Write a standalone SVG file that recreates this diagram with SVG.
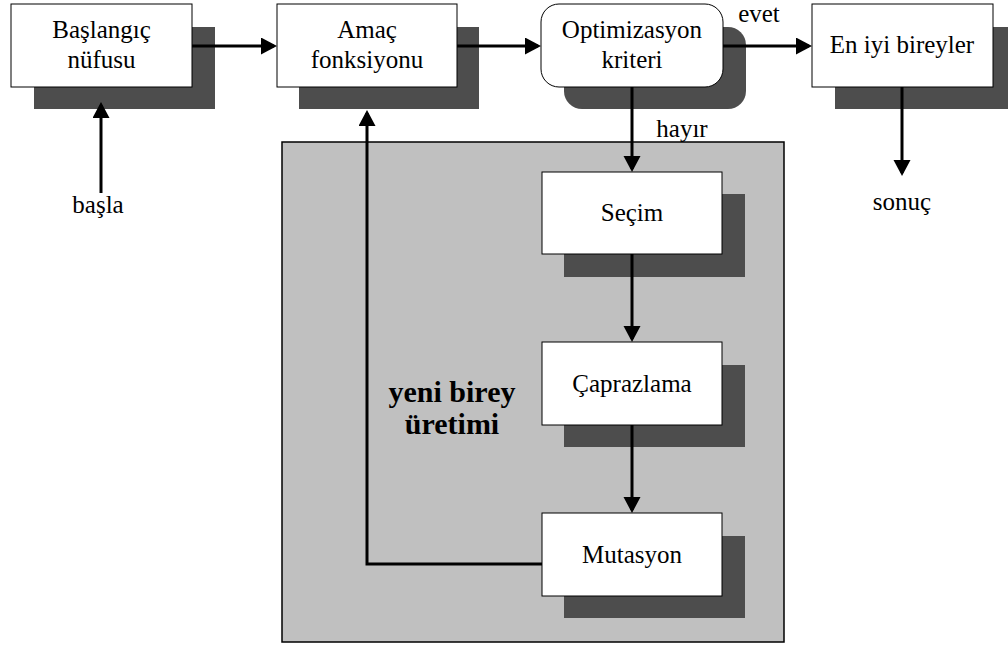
<svg xmlns="http://www.w3.org/2000/svg" width="1008" height="647" viewBox="0 0 1008 647">
<style>
.box{fill:#fff;stroke:#000;stroke-width:1}
.sh{fill:#4d4d4d}
text{font-family:'Liberation Serif','Times New Roman',Times,'DejaVu Serif',serif;fill:#000;text-anchor:middle}
.t{font-size:25px}
.b{font-size:30px;font-weight:bold}
.c{fill:none;stroke:#000;stroke-width:3}
</style>
<defs>
<marker id="ah" markerUnits="userSpaceOnUse" markerWidth="18" markerHeight="18" refX="13" refY="8.5" orient="auto" viewBox="0 0 18 18">
<path d="M0,0 L16,8.5 L0,17 z" fill="#000"/>
</marker>
</defs>
<rect width="1008" height="647" fill="#fff"/>
<g id="group-bg">
<rect x="282" y="142" width="502" height="500" fill="#c0c0c0" stroke="#000" stroke-width="1.5"/>
<text class="b" x="452" y="402">yeni birey</text>
<text class="b" x="452" y="434">üretimi</text>
</g>
<g id="n-baslangic">
<rect class="sh" x="34" y="27" width="181" height="82"/>
<rect class="box" x="11" y="4" width="181" height="83"/>
<text class="t" x="101.5" y="38">Başlangıç</text>
<text class="t" x="101.5" y="68">nüfusu</text>
</g>
<g id="n-amac">
<rect class="sh" x="299" y="27" width="180" height="82"/>
<rect class="box" x="277" y="4" width="180" height="83"/>
<text class="t" x="367" y="38">Amaç</text>
<text class="t" x="367" y="68">fonksiyonu</text>
</g>
<g id="n-opt">
<rect class="sh" x="564" y="27" width="182" height="82" rx="18"/>
<rect class="box" x="541" y="4" width="182" height="83" rx="18"/>
<text class="t" x="632" y="38">Optimizasyon</text>
<text class="t" x="632" y="68">kriteri</text>
</g>
<g id="n-eniyi">
<rect class="sh" x="835" y="27" width="181" height="82"/>
<rect class="box" x="812" y="4" width="181" height="83"/>
<text class="t" x="902" y="53">En iyi bireyler</text>
</g>
<g id="n-secim">
<rect class="sh" x="564" y="194" width="181" height="83"/>
<rect class="box" x="542" y="172" width="180" height="82"/>
<text class="t" x="632" y="221">Seçim</text>
</g>
<g id="n-caprazlama">
<rect class="sh" x="564" y="365" width="181" height="82"/>
<rect class="box" x="542" y="342" width="180" height="83"/>
<text class="t" x="632" y="392">Çaprazlama</text>
</g>
<g id="n-mutasyon">
<rect class="sh" x="564" y="536" width="181" height="82"/>
<rect class="box" x="542" y="513" width="180" height="83"/>
<text class="t" x="632" y="563">Mutasyon</text>
</g>
<g id="connectors">
<line class="c" x1="101" y1="193" x2="101" y2="105" marker-end="url(#ah)"/>
<line class="c" x1="192" y1="46" x2="274" y2="46" marker-end="url(#ah)"/>
<line class="c" x1="457" y1="46" x2="538" y2="46" marker-end="url(#ah)"/>
<line class="c" x1="723" y1="46" x2="809" y2="46" marker-end="url(#ah)"/>
<line class="c" x1="902" y1="87" x2="902" y2="173" marker-end="url(#ah)"/>
<line class="c" x1="632" y1="87" x2="632" y2="169" marker-end="url(#ah)"/>
<line class="c" x1="632" y1="254" x2="632" y2="339" marker-end="url(#ah)"/>
<line class="c" x1="632" y1="425" x2="632" y2="510" marker-end="url(#ah)"/>
<polyline class="c" points="542,564 367,564 367,113" marker-end="url(#ah)"/>
<text class="t" x="759" y="22">evet</text>
<text class="t" x="682" y="137">hayır</text>
<text class="t" x="98" y="213">başla</text>
<text class="t" x="902" y="210">sonuç</text>
</g>
</svg>
